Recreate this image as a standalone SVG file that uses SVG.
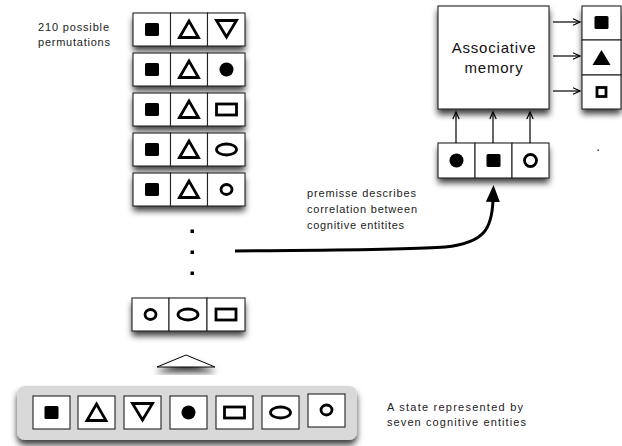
<svg xmlns="http://www.w3.org/2000/svg" xmlns:xlink="http://www.w3.org/1999/xlink" width="622" height="446" viewBox="0 0 622 446">
<style>
.cell{fill:#fff;stroke:#222;stroke-width:1.1}
.sk{fill:none;stroke:#000;stroke-width:2.8;stroke-linejoin:miter}
.fl{fill:#000}
.t{font-family:"Liberation Sans",Arial,sans-serif;font-size:11px;fill:#222}
.tm{font-family:"Liberation Sans",Arial,sans-serif;font-size:15px;fill:#111;text-anchor:middle}
.ln{fill:none;stroke:#000;stroke-width:1.2}
</style>
<defs>
<filter id="sh" x="-20%" y="-30%" width="140%" height="190%">
<feGaussianBlur in="SourceAlpha" stdDeviation="3"/>
<feOffset dy="5" result="b"/>
<feFlood flood-color="#000" flood-opacity="0.75"/>
<feComposite in2="b" operator="in"/>
<feMerge><feMergeNode/><feMergeNode in="SourceGraphic"/></feMerge>
</filter>
<marker id="ov" markerWidth="10" markerHeight="10" refX="8" refY="4" orient="auto" markerUnits="userSpaceOnUse">
<path d="M1,0.8 L8,4 L1,7.2" fill="none" stroke="#000" stroke-width="1.2"/>
</marker>
<marker id="big" markerWidth="20" markerHeight="20" refX="2" refY="7" orient="auto" markerUnits="userSpaceOnUse">
<path d="M0,0 L17,7 L0,14 Z" fill="#000"/>
</marker>
<rect id="sqf" x="-7" y="-6.5" width="14" height="13" rx="1.5" class="fl"/>
<polygon id="triU" points="-9.5,7.5 0,-9 9.5,7.5" class="sk"/>
<polygon id="triD" points="-10,-8.5 10,-8.5 0,8" class="sk"/>
<circle id="circF" r="7" class="fl"/>
<rect id="rectH" x="-10" y="-5.5" width="20" height="11" class="sk"/>
<ellipse id="ellH" rx="10" ry="5.5" class="sk"/>
<ellipse id="circS" rx="5.5" ry="5" class="sk" stroke-width="2.5"/>
<circle id="circS2" r="6" class="sk" stroke-width="3"/>
<polygon id="triF" points="-9,7 0,-8 9,7" class="fl"/>
<rect id="sqH" x="-4.5" y="-4.5" width="9" height="9" class="sk"/>
</defs>
<rect width="622" height="446" fill="#fff"/>

<g id="label-permutations">
<text class="t" x="38" y="31" textLength="71" lengthAdjust="spacing">210 possible</text>
<text class="t" x="38" y="46" textLength="72" lengthAdjust="spacing">permutations</text>
</g>

<g id="perm-1">
<rect x="133" y="13" width="112" height="33" fill="#fff" filter="url(#sh)"/>
<rect class="cell" x="133" y="13" width="37.5" height="33"/><rect class="cell" x="170.5" y="13" width="37" height="33"/><rect class="cell" x="207.5" y="13" width="37.5" height="33"/>
<use xlink:href="#sqf" x="152" y="29.5"/><use xlink:href="#triU" x="189" y="30"/><use xlink:href="#triD" x="226.5" y="29"/>
</g>
<g id="perm-2">
<rect x="133" y="53" width="112" height="33" fill="#fff" filter="url(#sh)"/>
<rect class="cell" x="133" y="53" width="37.5" height="33"/><rect class="cell" x="170.5" y="53" width="37" height="33"/><rect class="cell" x="207.5" y="53" width="37.5" height="33"/>
<use xlink:href="#sqf" x="152" y="69.5"/><use xlink:href="#triU" x="189" y="70"/><use xlink:href="#circF" x="226.5" y="69.5"/>
</g>
<g id="perm-3">
<rect x="133" y="93" width="112" height="33" fill="#fff" filter="url(#sh)"/>
<rect class="cell" x="133" y="93" width="37.5" height="33"/><rect class="cell" x="170.5" y="93" width="37" height="33"/><rect class="cell" x="207.5" y="93" width="37.5" height="33"/>
<use xlink:href="#sqf" x="152" y="109.5"/><use xlink:href="#triU" x="189" y="110"/><use xlink:href="#rectH" x="226.5" y="109.5"/>
</g>
<g id="perm-4">
<rect x="133" y="133" width="112" height="33" fill="#fff" filter="url(#sh)"/>
<rect class="cell" x="133" y="133" width="37.5" height="33"/><rect class="cell" x="170.5" y="133" width="37" height="33"/><rect class="cell" x="207.5" y="133" width="37.5" height="33"/>
<use xlink:href="#sqf" x="152" y="149.5"/><use xlink:href="#triU" x="189" y="150"/><use xlink:href="#ellH" x="226.5" y="149.5"/>
</g>
<g id="perm-5">
<rect x="133" y="173" width="112" height="33" fill="#fff" filter="url(#sh)"/>
<rect class="cell" x="133" y="173" width="37.5" height="33"/><rect class="cell" x="170.5" y="173" width="37" height="33"/><rect class="cell" x="207.5" y="173" width="37.5" height="33"/>
<use xlink:href="#sqf" x="152" y="189.5"/><use xlink:href="#triU" x="189" y="190"/><use xlink:href="#circS" x="226.5" y="189.5"/>
</g>

<g id="ellipsis-dots" fill="#000">
<rect x="190.5" y="229.5" width="3.5" height="3.5"/>
<rect x="190.5" y="250.5" width="3.5" height="3.5"/>
<rect x="190.5" y="271.5" width="3.5" height="3.5"/>
</g>

<g id="perm-last">
<rect x="132" y="298" width="113" height="33" fill="#fff" filter="url(#sh)"/>
<rect class="cell" x="132" y="298" width="37" height="33"/><rect class="cell" x="169" y="298" width="38" height="33"/><rect class="cell" x="207" y="298" width="38" height="33"/>
<use xlink:href="#circS" x="150.5" y="314.5"/><use xlink:href="#ellH" x="188" y="314.5"/><use xlink:href="#rectH" x="226" y="314.5"/>
</g>

<g id="roof">
<polygon points="157,367 186,355 215,367" fill="#fff" stroke="#000" stroke-width="1" filter="url(#sh)"/>
</g>

<g id="state">
<rect x="17" y="386" width="340" height="54" rx="8" fill="#d9d9d9" filter="url(#sh)"/>
<rect class="cell" x="33" y="396" width="37" height="33"/>
<rect class="cell" x="78" y="396" width="37" height="33"/>
<rect class="cell" x="124" y="396" width="37" height="33"/>
<rect class="cell" x="170" y="396" width="37" height="33"/>
<rect class="cell" x="216" y="396" width="37" height="33"/>
<rect class="cell" x="262" y="396" width="37" height="33"/>
<rect class="cell" x="308" y="394" width="37" height="33" stroke="#555"/>
<use xlink:href="#sqf" x="51.5" y="412.5"/>
<use xlink:href="#triU" x="96.5" y="413"/>
<use xlink:href="#triD" x="142.5" y="412"/>
<use xlink:href="#circF" x="188.5" y="412.5"/>
<use xlink:href="#rectH" x="234.5" y="412.5"/>
<use xlink:href="#ellH" x="280.5" y="412.5"/>
<use xlink:href="#circS" x="326.5" y="410"/>
</g>

<g id="label-state">
<text class="t" x="387" y="411" textLength="136" lengthAdjust="spacing">A state represented by</text>
<text class="t" x="387" y="426" textLength="139" lengthAdjust="spacing">seven cognitive entities</text>
</g>

<g id="label-premisse">
<text class="t" x="307" y="197" textLength="109" lengthAdjust="spacing">premisse describes</text>
<text class="t" x="307" y="213" textLength="110" lengthAdjust="spacing">correlation between</text>
<text class="t" x="307" y="229" textLength="97" lengthAdjust="spacing">cognitive entitites</text>
</g>

<g id="memory">
<rect x="438" y="6" width="111" height="103" fill="#fff" stroke="#222" stroke-width="1.1" filter="url(#sh)"/>
<text class="tm" x="494" y="53" letter-spacing="0.8">Associative</text>
<text class="tm" x="494" y="73" letter-spacing="0.8">memory</text>
</g>

<g id="output">
<rect x="582" y="6" width="39" height="103" fill="#fff" filter="url(#sh)"/>
<rect class="cell" x="582" y="6" width="39" height="34"/>
<rect class="cell" x="582" y="40" width="39" height="35"/>
<rect class="cell" x="582" y="75" width="39" height="34"/>
<use xlink:href="#sqf" x="601.5" y="22.5"/>
<use xlink:href="#triF" x="601.5" y="58"/>
<use xlink:href="#sqH" x="601.5" y="92"/>
</g>

<g id="input">
<rect x="438" y="143" width="111" height="35" fill="#fff" filter="url(#sh)"/>
<rect class="cell" x="438" y="143" width="37" height="35"/>
<rect class="cell" x="475" y="143" width="37" height="35"/>
<rect class="cell" x="512" y="143" width="37" height="35"/>
<use xlink:href="#circF" x="456.5" y="160.5"/>
<use xlink:href="#sqf" x="493.5" y="160.5"/>
<use xlink:href="#circS2" x="530.5" y="160.5"/>
</g>

<g id="stray-dot"><rect x="597.5" y="149.5" width="1.5" height="1.5" fill="#333"/></g>

<g id="connectors">
<path d="M235,251 C330,250 410,250 445,247 C485,243 492,228 493,200" fill="none" stroke="#000" stroke-width="3" marker-end="url(#big)"/>
<line class="ln" x1="456" y1="143" x2="456" y2="112" marker-end="url(#ov)"/>
<line class="ln" x1="493" y1="143" x2="493" y2="112" marker-end="url(#ov)"/>
<line class="ln" x1="530" y1="143" x2="530" y2="112" marker-end="url(#ov)"/>
<line class="ln" x1="553" y1="22" x2="580" y2="22" marker-end="url(#ov)"/>
<line class="ln" x1="553" y1="56" x2="580" y2="56" marker-end="url(#ov)"/>
<line class="ln" x1="553" y1="91" x2="580" y2="91" marker-end="url(#ov)"/>
</g>
</svg>
